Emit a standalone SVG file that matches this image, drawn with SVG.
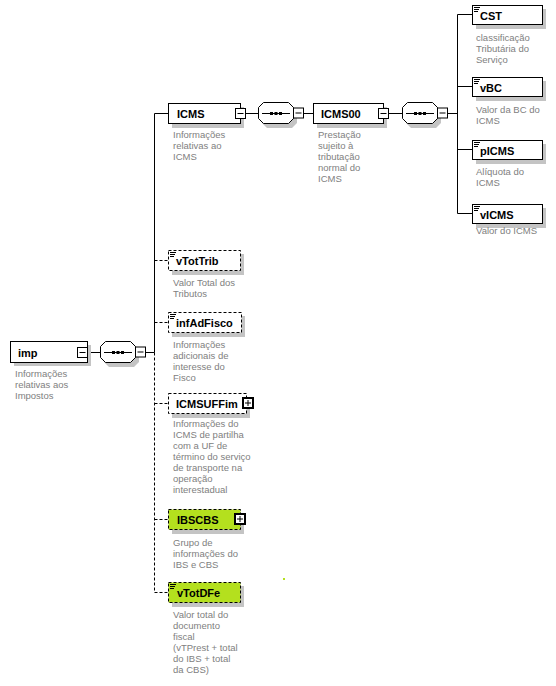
<svg xmlns="http://www.w3.org/2000/svg" width="556" height="686" viewBox="0 0 556 686">
<defs>
<style>
.bx{fill:#fff;stroke:#000;stroke-width:1}
.opt{stroke-dasharray:3,2}
.gr{fill:#b4e01e}
.sh{fill:#c4c4c4}
.t{font-family:"Liberation Sans",Arial,sans-serif;font-weight:bold;font-size:11px;fill:#000}
.d{font-family:"Liberation Sans",Arial,sans-serif;font-size:9.5px;fill:#808080}
.ln{stroke:#000;stroke-width:1;fill:none}
.dl{stroke:#000;stroke-width:1;fill:none;stroke-dasharray:3,2}
.ic{stroke:#000;stroke-width:1}
</style>
<g id="minus"><rect x="0.5" y="0.5" width="10" height="10" fill="#fff" stroke="#000"/><line x1="2.5" y1="5.5" x2="8.5" y2="5.5" stroke="#000"/></g>
<g id="plus"><rect x="1" y="1" width="10" height="10" fill="#fff" stroke="#000" stroke-width="2"/><line x1="3" y1="6" x2="9" y2="6" stroke="#000"/><line x1="6" y1="3" x2="6" y2="9" stroke="#000"/></g>
<g id="doc"><line x1="2" y1="2.5" x2="8" y2="2.5" class="ic"/><line x1="2" y1="4.5" x2="7" y2="4.5" class="ic"/><line x1="2" y1="6.5" x2="6" y2="6.5" class="ic"/></g>
<g id="seq">
<path d="M9,4 H34 L39,9 V21 L34,26 H9 L4,21 V9 Z" fill="#c4c4c4"/>
<path d="M5.5,0.5 H30.5 L35.5,5.5 V16.5 L30.5,21.5 H5.5 L0.5,16.5 V5.5 Z" fill="#fff" stroke="#000"/>
<line x1="4" y1="11.5" x2="32" y2="11.5" stroke="#000"/>
<rect x="12" y="10" width="3" height="3" fill="#000"/><rect x="16.5" y="10" width="3" height="3" fill="#000"/><rect x="21" y="10" width="3" height="3" fill="#000"/>
<use href="#minus" x="35" y="5.5"/>
</g>
</defs>

<g id="connectors">
<line x1="87" y1="352.5" x2="100" y2="352.5" class="ln"/>
<line x1="146" y1="352.5" x2="154.5" y2="352.5" class="ln"/>
<line x1="154.5" y1="113.5" x2="154.5" y2="352.5" class="ln"/>
<line x1="154.5" y1="352.5" x2="154.5" y2="592.5" class="dl"/>
<line x1="154.5" y1="113.5" x2="168" y2="113.5" class="ln"/>
<line x1="154.5" y1="260.5" x2="168" y2="260.5" class="dl"/>
<line x1="154.5" y1="322.5" x2="168" y2="322.5" class="dl"/>
<line x1="154.5" y1="403.5" x2="168" y2="403.5" class="dl"/>
<line x1="154.5" y1="519.5" x2="168" y2="519.5" class="dl"/>
<line x1="154.5" y1="592.5" x2="168" y2="592.5" class="dl"/>
<line x1="246" y1="113.5" x2="258" y2="113.5" class="ln"/>
<line x1="304" y1="113.5" x2="313" y2="113.5" class="ln"/>
<line x1="388" y1="113.5" x2="402" y2="113.5" class="ln"/>
<line x1="448" y1="113.5" x2="457.5" y2="113.5" class="ln"/>
<line x1="457.5" y1="14.5" x2="457.5" y2="213.5" class="ln"/>
<line x1="457.5" y1="14.5" x2="472" y2="14.5" class="ln"/>
<line x1="457.5" y1="86.5" x2="472" y2="86.5" class="ln"/>
<line x1="457.5" y1="149.5" x2="472" y2="149.5" class="ln"/>
<line x1="457.5" y1="213.5" x2="472" y2="213.5" class="ln"/>
</g>

<g id="seq1"><use href="#seq" x="100" y="341"/></g>
<g id="seq2"><use href="#seq" x="258" y="102"/></g>
<g id="seq3"><use href="#seq" x="402" y="102"/></g>

<g id="imp">
<rect x="14" y="345" width="77" height="21" class="sh"/>
<rect x="10.5" y="341.5" width="77" height="21" class="bx"/>
<use href="#minus" x="77" y="347"/>
<text x="18" y="357" class="t">imp</text>
<text class="d"><tspan x="15" y="377">Informações</tspan><tspan x="15" y="388">relativas aos</tspan><tspan x="15" y="399">Impostos</tspan></text>
</g>

<g id="ICMS">
<rect x="172" y="107" width="72" height="21" class="sh"/>
<rect x="168.5" y="103.5" width="72" height="20" class="bx"/>
<use href="#minus" x="235" y="108"/>
<text x="177" y="118" class="t">ICMS</text>
<text class="d"><tspan x="173" y="138">Informações</tspan><tspan x="173" y="149">relativas ao</tspan><tspan x="173" y="160">ICMS</tspan></text>
</g>

<g id="ICMS00">
<rect x="317" y="107" width="70" height="21" class="sh"/>
<rect x="313.5" y="103.5" width="70" height="20" class="bx"/>
<use href="#minus" x="378" y="108"/>
<text x="321" y="118" class="t">ICMS00</text>
<text class="d"><tspan x="318" y="138">Prestação</tspan><tspan x="318" y="149">sujeito à</tspan><tspan x="318" y="160">tributação</tspan><tspan x="318" y="171">normal do</tspan><tspan x="318" y="182">ICMS</tspan></text>
</g>

<g id="CST">
<rect x="476" y="9" width="70" height="20" class="sh"/>
<rect x="472.5" y="5.5" width="70" height="19" class="bx"/>
<use href="#doc" x="472" y="5"/>
<text x="480" y="20" class="t">CST</text>
<text class="d"><tspan x="476" y="41">classificação</tspan><tspan x="476" y="52">Tributária do</tspan><tspan x="476" y="63">Serviço</tspan></text>
</g>

<g id="vBC">
<rect x="476" y="81" width="70" height="20" class="sh"/>
<rect x="472.5" y="77.5" width="70" height="19" class="bx"/>
<use href="#doc" x="472" y="77"/>
<text x="480" y="92" class="t">vBC</text>
<text class="d"><tspan x="476" y="113">Valor da BC do</tspan><tspan x="476" y="124">ICMS</tspan></text>
</g>

<g id="pICMS">
<rect x="476" y="144" width="70" height="20" class="sh"/>
<rect x="472.5" y="140.5" width="70" height="19" class="bx"/>
<use href="#doc" x="472" y="140"/>
<text x="480" y="155" class="t">pICMS</text>
<text class="d"><tspan x="476" y="175">Alíquota do</tspan><tspan x="476" y="186">ICMS</tspan></text>
</g>

<g id="vICMS">
<rect x="476" y="208" width="70" height="20" class="sh"/>
<rect x="472.5" y="204.5" width="70" height="19" class="bx"/>
<use href="#doc" x="472" y="204"/>
<text x="480" y="219" class="t">vICMS</text>
<text class="d"><tspan x="476" y="234">Valor do ICMS</tspan></text>
</g>

<g id="vTotTrib">
<rect x="172" y="254" width="72" height="21" class="sh"/>
<rect x="168.5" y="250.5" width="72" height="20" class="bx opt"/>
<use href="#doc" x="168" y="250"/>
<text x="176" y="265" class="t">vTotTrib</text>
<text class="d"><tspan x="173" y="286">Valor Total dos</tspan><tspan x="173" y="297">Tributos</tspan></text>
</g>

<g id="infAdFisco">
<rect x="172" y="316" width="73" height="21" class="sh"/>
<rect x="168.5" y="312.5" width="73" height="20" class="bx opt"/>
<use href="#doc" x="168" y="312"/>
<text x="176" y="327" class="t">infAdFisco</text>
<text class="d"><tspan x="173" y="348">Informações</tspan><tspan x="173" y="359">adicionais de</tspan><tspan x="173" y="370">interesse do</tspan><tspan x="173" y="381">Fisco</tspan></text>
</g>

<g id="ICMSUFFim">
<rect x="172" y="397" width="78" height="21" class="sh"/>
<rect x="168.5" y="393.5" width="78" height="20" class="bx opt"/>
<use href="#plus" x="242" y="397"/>
<text x="176" y="408" class="t">ICMSUFFim</text>
<text class="d"><tspan x="173" y="427">Informações do</tspan><tspan x="173" y="438">ICMS de partilha</tspan><tspan x="173" y="449">com a UF de</tspan><tspan x="173" y="460">término do serviço</tspan><tspan x="173" y="471">de transporte na</tspan><tspan x="173" y="482">operação</tspan><tspan x="173" y="493">interestadual</tspan></text>
</g>

<g id="IBSCBS">
<rect x="172" y="513" width="72" height="21" class="sh"/>
<rect x="168.5" y="509.5" width="72" height="20" class="bx opt gr"/>
<use href="#plus" x="234" y="513"/>
<text x="177" y="524" class="t">IBSCBS</text>
<text class="d"><tspan x="173" y="546">Grupo de</tspan><tspan x="173" y="557">informações do</tspan><tspan x="173" y="568">IBS e CBS</tspan></text>
</g>

<g id="vTotDFe">
<rect x="172" y="586" width="72" height="21" class="sh"/>
<rect x="168.5" y="582.5" width="72" height="20" class="bx opt gr"/>
<use href="#doc" x="168" y="582"/>
<text x="177" y="597" class="t">vTotDFe</text>
<text class="d"><tspan x="173" y="618">Valor total do</tspan><tspan x="173" y="629">documento</tspan><tspan x="173" y="640">fiscal</tspan><tspan x="173" y="651">(vTPrest + total</tspan><tspan x="173" y="662">do IBS + total</tspan><tspan x="173" y="673">da CBS)</tspan></text>
</g>

<rect x="283" y="578" width="2" height="2" fill="#b4e01e"/>
</svg>
